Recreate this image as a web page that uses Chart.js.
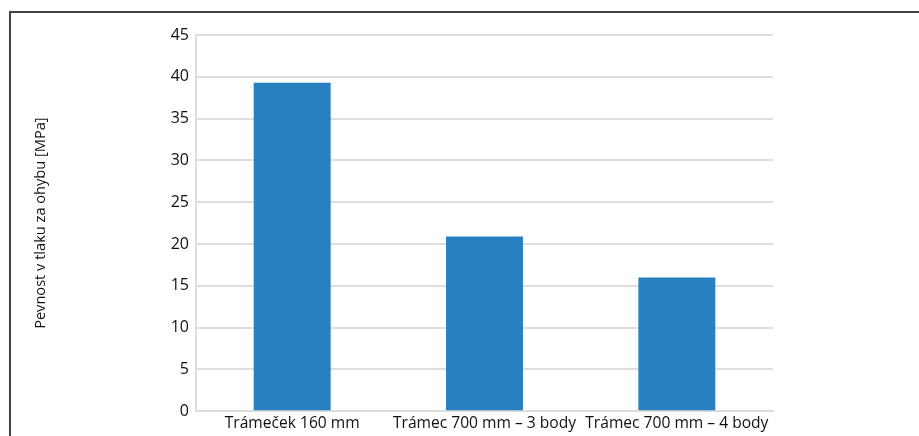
<!DOCTYPE html>
<html>
<head>
<meta charset="utf-8">
<script src="https://cdn.jsdelivr.net/npm/chart.js@4/dist/chart.umd.min.js"></script>
<style>
    html, body { margin: 0; padding: 0; background: #fff; }
    #wrap { position: relative; width: 919px; height: 436px; }
    #frame {
        position: absolute; left: 9px; top: 11px; right: -5px; bottom: -5px;
        border-top: 2px solid #444; border-left: 2px solid #444;
        pointer-events: none;
    }
</style>
</head>
<body>
<div id="wrap">
    <canvas id="chart" width="919" height="436"></canvas>
    <div id="frame"></div>
</div>
<script>
const categories = ['Trámeček 160 mm', 'Trámec 700 mm – 3 body', 'Trámec 700 mm – 4 body'];
const strength = [39.3, 20.9, 16.0];
const yTitle = 'Pevnost v tlaku za ohybu [MPa]';

const ctx = document.getElementById('chart').getContext('2d');
new Chart(ctx, {
    type: 'bar',
    data: {
        labels: categories,
        datasets: [{
            data: strength,
            backgroundColor: '#2980c1',
            categoryPercentage: 1,
            barPercentage: 0.4
        }]
    },
    options: {
        responsive: false,
        animation: false,
        layout: { padding: { left: 32, right: 146, top: 35, bottom: 0 } },
        plugins: { legend: { display: false }, tooltip: { enabled: false } },
        scales: {
            x: {
                grid: { display: false, drawTicks: false },
                border: { color: '#dcdcdc', width: 2 },
                ticks: {
                    color: '#111', padding: 3, maxRotation: 0, minRotation: 0, autoSkip: false,
                    font: { family: 'Open Sans', size: 15.6 }
                }
            },
            y: {
                min: 0,
                max: 45,
                ticks: { stepSize: 5, color: '#111', padding: 7, font: { family: 'Open Sans', size: 16 } },
                grid: { color: '#dedede', lineWidth: 2, drawTicks: false },
                border: { color: '#dedede', width: 2 },
                title: {
                    display: true,
                    text: yTitle,
                    color: '#111',
                    padding: 0,
                    font: { family: 'Open Sans', size: 14.6 }
                },
                afterFit(scale) { scale.width = 164; }
            }
        }
    }
});
</script>
</body>
</html>
